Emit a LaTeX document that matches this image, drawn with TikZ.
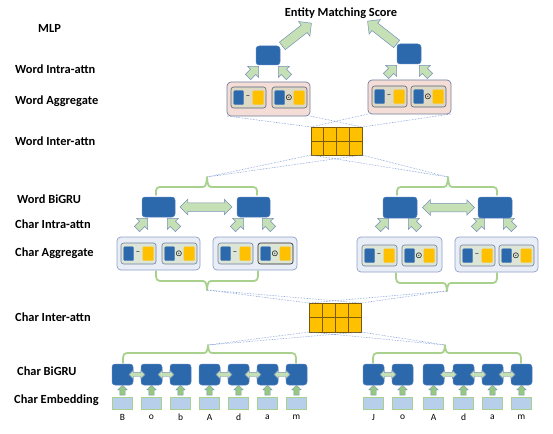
\documentclass[tikz,border=0pt]{standalone}
\usepackage{fontspec}
\setmainfont{Carlito}
\newfontfamily\symf{DejaVu Sans}
\usetikzlibrary{shapes.arrows,shadows,calc}
\definecolor{bxblue}{RGB}{44,104,172}
\definecolor{bxblueline}{RGB}{85,130,190}
\definecolor{gold}{RGB}{255,192,0}
\definecolor{goldline}{RGB}{120,90,10}
\definecolor{agreen}{RGB}{197,224,180}
\definecolor{aline}{RGB}{120,145,185}
\definecolor{brgreen}{RGB}{169,209,142}
\definecolor{pinkf}{RGB}{244,221,214}
\definecolor{tanf}{RGB}{221,217,196}
\definecolor{slate}{RGB}{90,100,125}
\definecolor{lavf}{RGB}{233,237,245}
\definecolor{lavline}{RGB}{140,160,200}
\definecolor{sagef}{RGB}{220,229,214}
\definecolor{embf}{RGB}{183,207,234}
\definecolor{uparrowc}{RGB}{150,200,130}
\definecolor{zline}{RGB}{100,135,205}
\tikzset{
 lbl/.style={font=\fontsize{12.4}{14}\selectfont\bfseries, anchor=west, inner sep=0pt},
 bbox/.style={draw=bxblueline, fill=bxblue, rounded corners=3pt, line width=0.5pt, anchor=north west, inner sep=0pt, outer sep=0pt},
 aggbox/.style={rounded corners=4pt, line width=0.7pt, anchor=north west, inner sep=0pt, outer sep=0pt},
 wagg/.style={aggbox, draw=lavline!80!black, fill=pinkf},
 cagg/.style={aggbox, draw=lavline, fill=lavf},
 wsub/.style={draw=slate, fill=tanf, rounded corners=2.5pt, line width=0.6pt, anchor=north west, inner sep=0pt, outer sep=0pt, minimum width=35pt, minimum height=21pt},
 csub/.style={wsub, draw=lavline!80!black, fill=sagef},
 csubk/.style={wsub, draw=black!85, fill=sagef},
 bsq/.style={fill=bxblue, draw=bxblueline, line width=0.3pt, rounded corners=1pt, anchor=north west, inner sep=0pt, minimum width=10pt, minimum height=14pt},
 ysq/.style={fill=gold, rounded corners=1pt, anchor=north west, inner sep=0pt, minimum width=11pt, minimum height=14pt},
 opn/.style={inner sep=0pt, font=\fontsize{8.5}{8.5}\selectfont},
 sarr/.style={single arrow, draw=aline, fill=agreen, line width=0.5pt, inner xsep=0pt, inner ysep=3.5pt, outer sep=0pt, minimum height=15pt, single arrow head extend=4pt},
 barr/.style={single arrow, draw=aline, fill=agreen, line width=0.5pt, inner xsep=0pt, inner ysep=4.5pt, outer sep=0pt, minimum height=37pt, single arrow head extend=4.5pt},
 wdarr/.style={double arrow, draw=aline, fill=agreen, line width=0.5pt, inner xsep=0pt, inner ysep=4pt, outer sep=0pt, minimum height=52pt, double arrow head extend=3.5pt},
 cdarr/.style={double arrow, draw=aline, fill=agreen, line width=0.4pt, inner xsep=0pt, inner ysep=2pt, outer sep=0pt, minimum height=16pt, double arrow head extend=2pt},
 uarr/.style={single arrow, draw=aline, fill=uparrowc, line width=0.4pt, inner xsep=0pt, inner ysep=2.5pt, outer sep=0pt, minimum height=10pt, single arrow head extend=2pt, rotate=90},
 cbox/.style={bbox, minimum width=21pt, minimum height=21pt},
 emb/.style={fill=embf, draw=brgreen, line width=0.5pt, minimum width=20pt, minimum height=12pt, inner sep=0pt, anchor=north},
 letr/.style={font=\fontsize{9.5}{9.5}\selectfont, inner sep=0pt},
 brc/.style={draw=brgreen, line width=1.8pt, line cap=round, line join=round},
 zl/.style={draw=zline, line width=0.55pt, densely dotted},
 gridn/.style={fill=gold, draw=goldline, line width=0.7pt, anchor=north west, inner sep=0pt, outer sep=0pt, drop shadow={shadow xshift=1pt, shadow yshift=-1pt, opacity=0.4}},
 gline/.style={draw=goldline, line width=0.7pt}
}
\newcommand\subbx[5]{%
 \begin{scope}[shift={(#2,#3)}]
 \node[#5] (#1) at (0,0) {};
 \node[bsq] (#1b) at (2.5,3.5) {};
 \node[ysq] (#1y) at (21.5,3.5) {};
 \node[opn] (#1o) at (17,10.5) {#4};
 \end{scope}}
\newcommand\bracex[6]{%
 \draw[brc] (#1,#6) .. controls (#1,#5) .. (#1+8,#5) -- (#3-7,#5) .. controls (#3-1,#5) .. (#3,#4) .. controls (#3+1,#5) .. (#3+7,#5) -- (#2-8,#5) .. controls (#2,#5) .. (#2,#6);}
\begin{document}
\begin{tikzpicture}[x=1pt,y=-1pt]
\useasboundingbox (0,0) rectangle (553,433);
% labels
\node[lbl] (lmlp) at (38,28) {MLP};
\node[lbl] (lwia) at (15,69) {Word Intra-attn};
\node[lbl] (lwag) at (15,101) {Word Aggregate};
\node[lbl] (lwie) at (15,141) {Word Inter-attn};
\node[lbl] (lwbg) at (17,199) {Word BiGRU};
\node[lbl] (lcia) at (15,224) {Char Intra-attn};
\node[lbl] (lcag) at (15,253) {Char Aggregate};
\node[lbl] (lcie) at (15,317) {Char Inter-attn};
\node[lbl] (lcbg) at (17,371) {Char BiGRU};
\node[lbl] (lcem) at (14,400) {Char Embedding};
\node[font=\fontsize{12.4}{14}\selectfont\bfseries, inner sep=0pt] (score) at (341,13) {Entity Matching Score};
% MLP
\node[bbox, minimum width=24pt, minimum height=19pt] (mlpL) at (256,46) {};
\node[bbox, minimum width=24pt, minimum height=20pt] (mlpR) at (397,44) {};
\node[barr, rotate=38] (bgL) at (295,36) {};
\node[barr, rotate=142] (bgR) at (384,34) {};
% word aggregate
\node[wagg, minimum width=83pt, minimum height=34pt] (wagL) at (227,82) {};
\node[wagg, minimum width=83pt, minimum height=34pt] (wagR) at (368,80) {};
\subbx{wsLa}{231}{87}{–}{wsub}
\subbx{wsLb}{272}{87}{\symf ⊙}{wsub}
\subbx{wsRa}{372}{86}{–}{wsub}
\subbx{wsRb}{411}{86}{\symf ⊙}{wsub}
\node[sarr, rotate=45] (saL1) at (252,73) {};
\node[sarr, rotate=135] (saL2) at (285,73) {};
\node[sarr, rotate=45] (saR1) at (390,72) {};
\node[sarr, rotate=135] (saR2) at (426,72) {};
% word inter-attn grid
\node[gridn, minimum width=51pt, minimum height=28pt] (wgrid) at (311,127) {};
\begin{scope}[shift={(311,127)}]
 \foreach \c in {12.75,25.5,38.25} \draw[gline] (\c,0) -- (\c,28);
 \draw[gline] (0,14) -- (51,14);
\end{scope}
\draw[zl] (wagL.south west) -- (wgrid.north west);
\draw[zl] (wagL.south east) -- (wgrid.north east);
\draw[zl] (wagR.south west) -- (wgrid.north west);
\draw[zl] (wagR.south east) -- (wgrid.north east);
\coordinate (tipWL) at (207,177);
\coordinate (tipWR) at (448,177);
\draw[zl] (wgrid.south west) -- (tipWL);
\draw[zl] (wgrid.south east) -- (tipWL);
\draw[zl] (wgrid.south west) -- (tipWR);
\draw[zl] (wgrid.south east) -- (tipWR);
% word BiGRU
\bracex{156}{257}{207}{177}{187}{195}
\bracex{397}{497}{448}{177}{187}{195}
\node[bbox, minimum width=33pt, minimum height=20pt] (wb1) at (142,197) {};
\node[bbox, minimum width=33pt, minimum height=20pt] (wb2) at (237,197) {};
\node[bbox, minimum width=34pt, minimum height=21pt] (wb3) at (383,197) {};
\node[bbox, minimum width=34pt, minimum height=21pt] (wb4) at (478,197) {};
\node[wdarr] (wdL) at (206,207) {};
\node[wdarr] (wdR) at (448.5,207.5) {};
% char aggregate
\node[cagg, minimum width=83pt, minimum height=33pt] (cag1) at (117,237) {};
\node[cagg, minimum width=84pt, minimum height=33pt] (cag2) at (213,237) {};
\node[cagg, minimum width=85pt, minimum height=35pt] (cag3) at (357,237) {};
\node[cagg, minimum width=83pt, minimum height=35pt] (cag4) at (455,237) {};
\subbx{cs1a}{121}{243}{–}{csub}
\subbx{cs1b}{162}{243}{\symf ⊙}{csub}
\subbx{cs2a}{218}{243}{–}{csub}
\subbx{cs2b}{258}{243}{\symf ⊙}{csubk}
\subbx{cs3a}{362}{245}{–}{csub}
\subbx{cs3b}{402}{245}{\symf ⊙}{csub}
\subbx{cs4a}{460}{245}{–}{csub}
\subbx{cs4b}{499}{245}{\symf ⊙}{csub}
\node[sarr, rotate=45] (sw1a) at (141,225) {};
\node[sarr, rotate=135] (sw1b) at (174,225) {};
\node[sarr, rotate=45] (sw2a) at (237,225) {};
\node[sarr, rotate=135] (sw2b) at (269,225) {};
\node[sarr, rotate=45] (sw3a) at (382,225) {};
\node[sarr, rotate=135] (sw3b) at (415,225) {};
\node[sarr, rotate=45] (sw4a) at (478,225) {};
\node[sarr, rotate=135] (sw4b) at (510,225) {};
\bracex{156}{258}{207}{290}{281}{271}
\bracex{396}{497}{447}{291}{283}{273}
\coordinate (tipCL) at (207,290);
\coordinate (tipCR) at (447,291);
% char inter-attn grid
\node[gridn, minimum width=52pt, minimum height=29pt] (cgrid) at (309,303) {};
\begin{scope}[shift={(309,303)}]
 \foreach \c in {13,26,39} \draw[gline] (\c,0) -- (\c,29);
 \draw[gline] (0,14.5) -- (52,14.5);
\end{scope}
\draw[zl] (tipCL) -- (cgrid.north west);
\draw[zl] (tipCL) -- (cgrid.north east);
\draw[zl] (tipCR) -- (cgrid.north west);
\draw[zl] (tipCR) -- (cgrid.north east);
\coordinate (tipBL) at (208,345);
\coordinate (tipBR) at (445,345);
\draw[zl] (cgrid.south west) -- (tipBL);
\draw[zl] (cgrid.south east) -- (tipBL);
\draw[zl] (cgrid.south west) -- (tipBR);
\draw[zl] (cgrid.south east) -- (tipBR);
% char BiGRU
\bracex{123}{296}{208}{345}{353}{363}
\bracex{373}{521}{445}{345}{353}{363}
\foreach \x/\l [count=\i] in {112/B,141/o,170/b,199/A,228/d,257/a,286/m} {
 \node[cbox] (cl\i) at (\x,364) {};
 \node[uarr] (ul\i) at (\x+10.5,391.5) {};
 \node[emb] (el\i) at (\x+10.5,397) {};
 \node[letr] (tl\i) at (\x+10.5,417) {\l};
}
\foreach \x/\l [count=\i] in {363/J,392/o,423/A,453/d,482/a,511/m} {
 \node[cbox] (cr\i) at (\x,364) {};
 \node[uarr] (ur\i) at (\x+10.5,391.5) {};
 \node[emb] (er\i) at (\x+10.5,397) {};
 \node[letr] (tr\i) at (\x+10.5,417) {\l};
}
\foreach \a/\b in {1/2,2/3,4/5,5/6,6/7}
 \node[cdarr] (dl\a\b) at ($(cl\a.east)!0.5!(cl\b.west)$) {};
\foreach \a/\b in {1/2,3/4,4/5,5/6}
 \node[cdarr] (dr\a\b) at ($(cr\a.east)!0.5!(cr\b.west)$) {};
\end{tikzpicture}
\end{document}
